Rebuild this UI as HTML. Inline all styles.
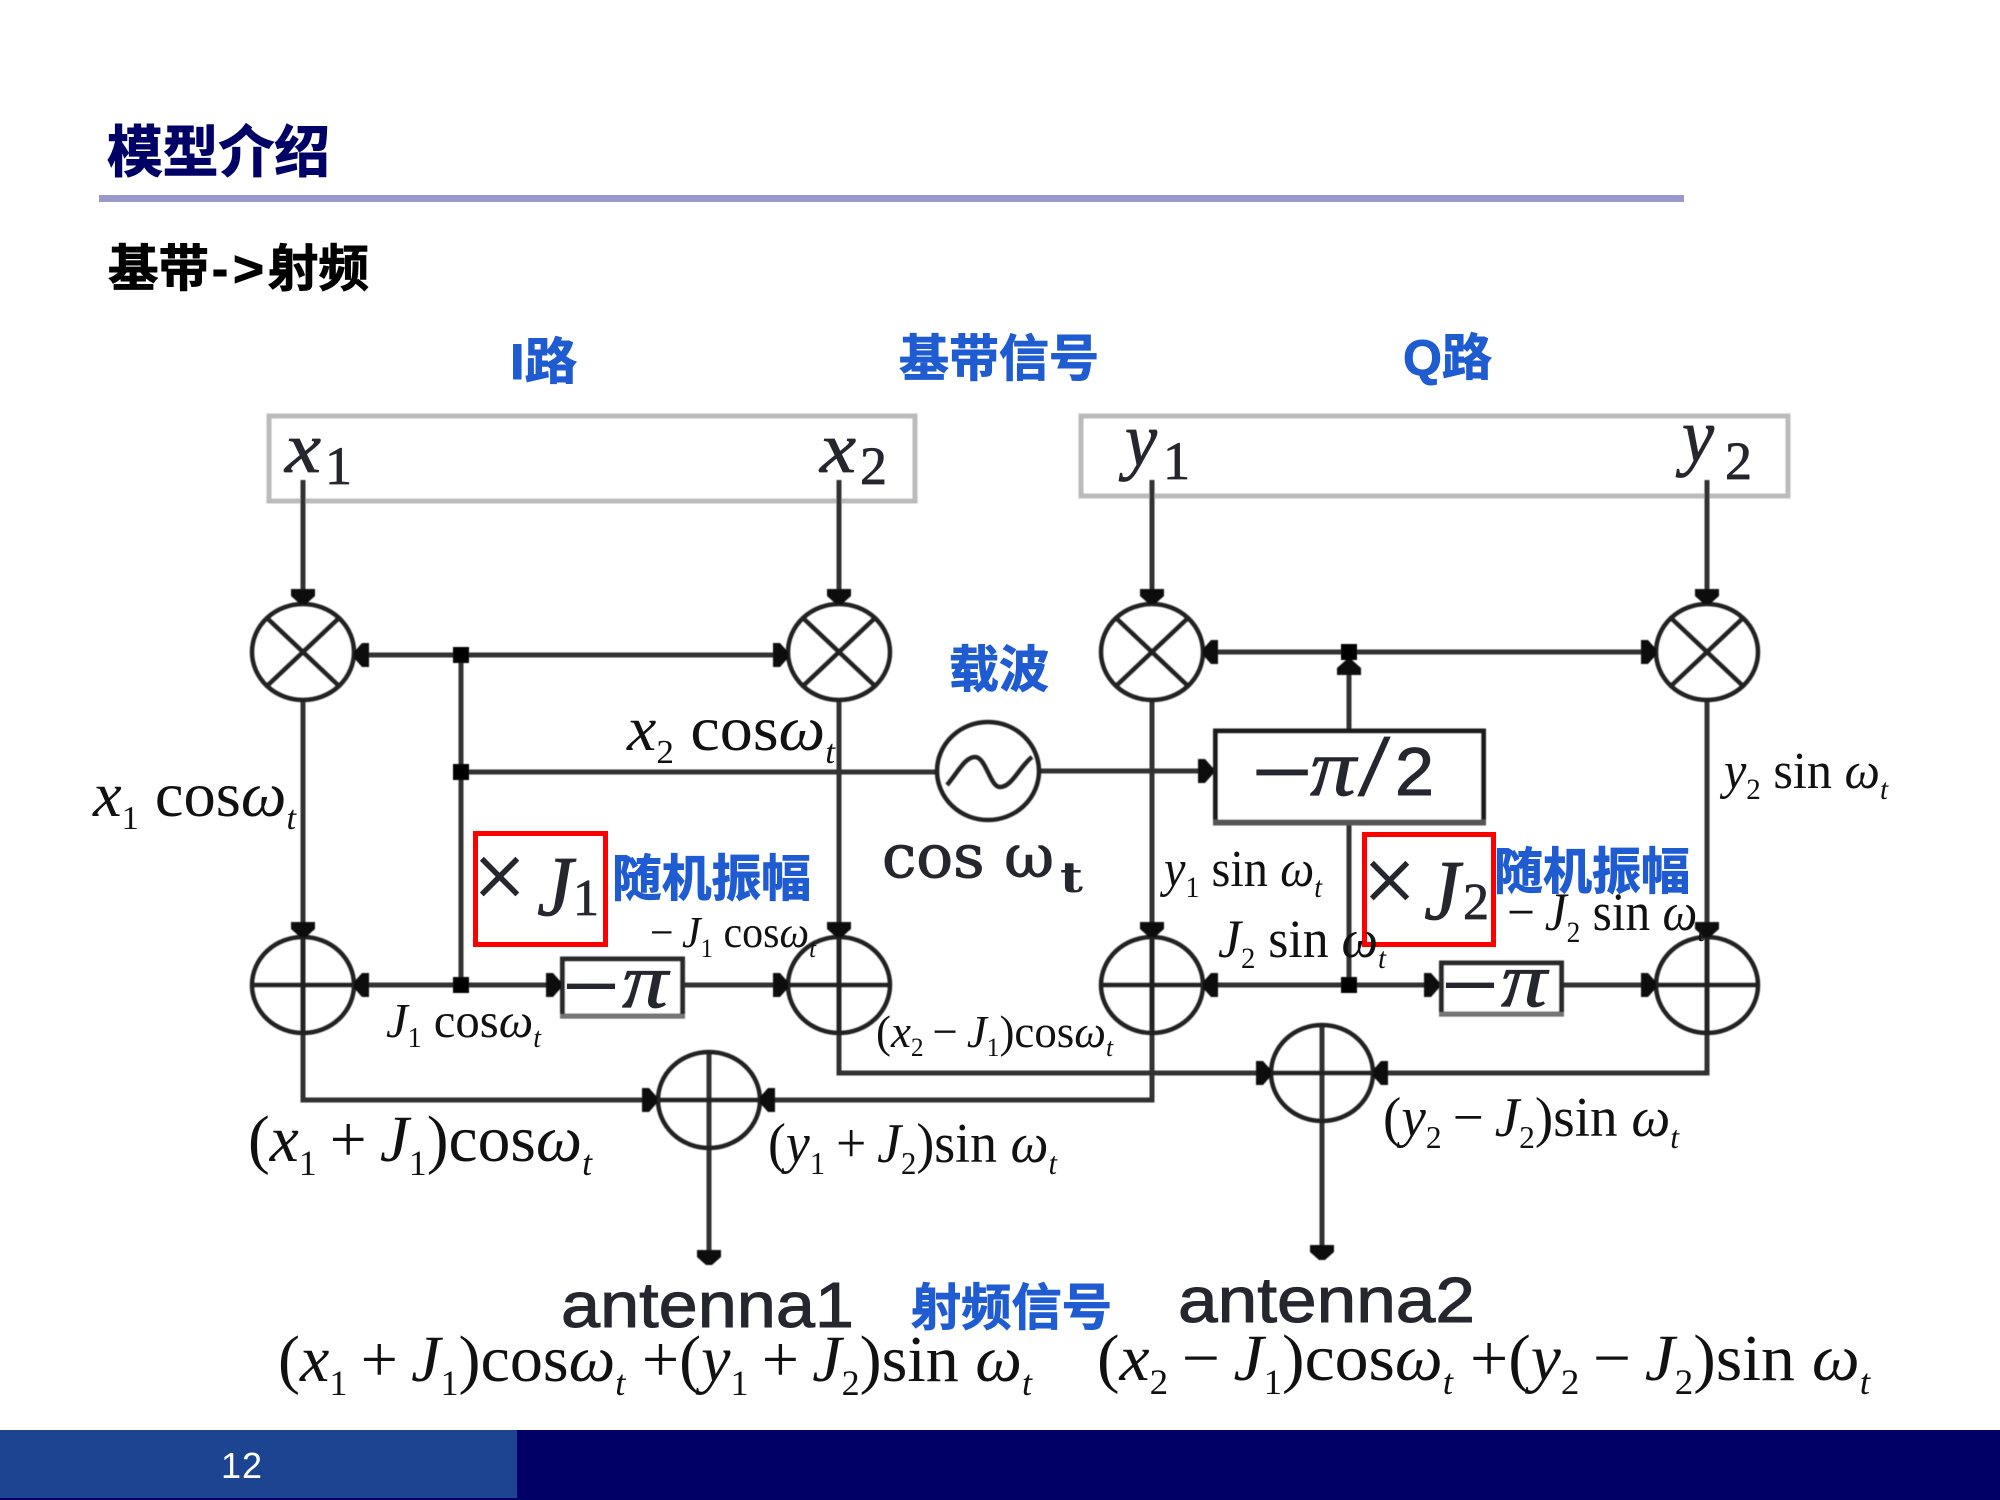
<!DOCTYPE html>
<html lang="zh"><head><meta charset="utf-8"><title>模型介绍</title>
<style>
html,body{margin:0;padding:0;background:#fff;width:2000px;height:1500px;overflow:hidden}
svg{display:block}
.cjk{font-family:"Liberation Sans","Noto Sans CJK SC",sans-serif;font-weight:700}
.blue{fill:#1f5bd1;font-size:50px;stroke:#1f5bd1;stroke-width:.9px}
.m{font-family:"Liberation Serif",serif;fill:#111}
.m .i,.i{font-style:italic}
.pic{font-family:"Liberation Serif",serif;fill:#26262e;stroke:#26262e;stroke-width:.8px}
.sans{font-family:"Liberation Sans",sans-serif;fill:#26262e;stroke:#26262e;stroke-width:1px}
</style></head><body>
<svg xmlns="http://www.w3.org/2000/svg" width="2000" height="1500" viewBox="0 0 2000 1500">
<defs>
<polygon id="ar" points="-15,-12 -8,-12 0,-3 0,3 -8,12 -15,12" fill="#111"/>
<filter id="soft" x="-2%" y="-2%" width="104%" height="104%"><feGaussianBlur stdDeviation="0.6"/></filter>
</defs>
<rect width="2000" height="1500" fill="#fff"/>

<!-- header -->
<text class="cjk" x="107" y="172" font-size="56" fill="#000066" stroke="#000066" stroke-width="1" textLength="223" lengthAdjust="spacingAndGlyphs">模型介绍</text>
<rect x="99" y="195" width="1585" height="7" fill="#9999cc"/>
<g class="cjk" font-size="50" fill="#000" stroke="#000" stroke-width="1">
<text x="108" y="286" textLength="101" lengthAdjust="spacingAndGlyphs">基带</text>
<text x="212" y="286" textLength="16" lengthAdjust="spacingAndGlyphs">-</text>
<text x="233" y="286" textLength="31" lengthAdjust="spacingAndGlyphs">&gt;</text>
<text x="268" y="286" textLength="101" lengthAdjust="spacingAndGlyphs">射频</text>
</g>

<text class="cjk blue" x="510" y="379" textLength="67" lengthAdjust="spacingAndGlyphs">I路</text>
<text class="cjk blue" x="899" y="376" textLength="200" lengthAdjust="spacingAndGlyphs">基带信号</text>
<text class="cjk blue" x="1403" y="375" textLength="89" lengthAdjust="spacingAndGlyphs">Q路</text>
<text class="cjk blue" x="949" y="687" textLength="100" lengthAdjust="spacingAndGlyphs">载波</text>
<text class="cjk blue" x="612" y="896" textLength="199" lengthAdjust="spacingAndGlyphs">随机振幅</text>
<text class="cjk blue" x="1494" y="889" textLength="196" lengthAdjust="spacingAndGlyphs">随机振幅</text>
<text class="cjk blue" x="911" y="1325" textLength="201" lengthAdjust="spacingAndGlyphs">射频信号</text>

<!-- diagram -->
<g filter="url(#soft)">
<rect x="269" y="416" width="646" height="85" fill="none" stroke="#bbb" stroke-width="5"/>
<rect x="1081" y="416" width="707" height="80" fill="none" stroke="#bbb" stroke-width="5"/>

<g fill="none" stroke="#333" stroke-width="5">
<path d="M303 480V604M839 480V604M1152 480V604M1707 480V604"/>
<path d="M303 700V1100H657M839 700V1073H1271M1152 700V1100H760M1707 700V1073H1373"/>
<path d="M354 655H788M461 655V985M461 772H937M1040 771H1213M1203 652H1656M1349 652V729M1349 824V985"/>
<path d="M354 985H561M684 985H788M1203 985H1439M1562 985H1656"/>
<path d="M709 1051V1262M1322 1025V1258"/>
</g>

<!-- multipliers -->
<g fill="none" stroke="#222" stroke-width="4.500">
<ellipse cx="303" cy="652" rx="51" ry="48"/><ellipse cx="839" cy="652" rx="51" ry="48"/>
<ellipse cx="1152" cy="652" rx="51" ry="48"/><ellipse cx="1707" cy="652" rx="51" ry="48"/>
<path d="M267 618L339 686M339 618L267 686M803 618L875 686M875 618L803 686M1116 618L1188 686M1188 618L1116 686M1671 618L1743 686M1743 618L1671 686"/>
<ellipse cx="303" cy="985" rx="51" ry="48"/><ellipse cx="839" cy="985" rx="51" ry="48"/>
<ellipse cx="1152" cy="985" rx="51" ry="48"/><ellipse cx="1707" cy="985" rx="51" ry="48"/>
<path d="M252 985H354M788 985H890M1101 985H1203M1656 985H1758"/>
<path d="M303 937V1033M839 937V1033M1152 937V1033M1707 937V1033"/>
<ellipse cx="709" cy="1100" rx="51" ry="48"/><ellipse cx="1322" cy="1073" rx="51" ry="48"/>
<path d="M657 1100H760M1271 1073H1373"/>
<ellipse cx="988" cy="771" rx="51" ry="49"/>
<path d="M947 785C958 772 965 757 975 757C986 757 990 787 1000 787C1012 787 1020 766 1032 757"/>
</g>

<!-- boxes -->
<rect x="1215.500" y="731" width="268" height="91" fill="#fff" stroke="#1a1a1a" stroke-width="5"/>
<path d="M1213 822.500H1486" stroke="#555" stroke-width="6"/>
<rect x="562.500" y="959" width="120" height="57" fill="#fff" stroke="#2a2a2a" stroke-width="5"/>
<path d="M560 1016H685" stroke="#777" stroke-width="4"/>
<rect x="1441.500" y="963" width="120" height="51" fill="#fff" stroke="#2a2a2a" stroke-width="5"/>
<path d="M1439 1014H1564" stroke="#777" stroke-width="4"/>

<!-- arrowheads -->
<use href="#ar" transform="translate(303,604) rotate(90)"/><use href="#ar" transform="translate(839,604) rotate(90)"/>
<use href="#ar" transform="translate(1152,604) rotate(90)"/><use href="#ar" transform="translate(1707,604) rotate(90)"/>
<use href="#ar" transform="translate(354,655) rotate(180)"/><use href="#ar" transform="translate(788,655)"/>
<use href="#ar" transform="translate(1203,652) rotate(180)"/><use href="#ar" transform="translate(1656,652)"/>
<use href="#ar" transform="translate(1349,660) rotate(-90)"/><use href="#ar" transform="translate(1213,771)"/>
<use href="#ar" transform="translate(354,985) rotate(180)"/><use href="#ar" transform="translate(561,985)"/><use href="#ar" transform="translate(788,985)"/>
<use href="#ar" transform="translate(1203,985) rotate(180)"/><use href="#ar" transform="translate(1439,985)"/><use href="#ar" transform="translate(1656,985)"/>
<use href="#ar" transform="translate(303,937) rotate(90)"/><use href="#ar" transform="translate(839,937) rotate(90)"/>
<use href="#ar" transform="translate(1152,937) rotate(90)"/><use href="#ar" transform="translate(1707,937) rotate(90)"/>
<use href="#ar" transform="translate(657,1100)"/><use href="#ar" transform="translate(760,1100) rotate(180)"/>
<use href="#ar" transform="translate(1271,1073)"/><use href="#ar" transform="translate(1373,1073) rotate(180)"/>
<use href="#ar" transform="translate(709,1265) rotate(90)"/><use href="#ar" transform="translate(1322,1260) rotate(90)"/>

<g fill="#000"><rect x="453" y="647" width="16" height="16"/><rect x="453" y="764" width="16" height="16"/><rect x="453" y="977" width="16" height="16"/><rect x="1341" y="644" width="16" height="16"/><rect x="1341" y="977" width="16" height="16"/></g>
</g>

<!-- picture labels -->
<text class="pic i" x="285" y="472" font-size="72" textLength="36" lengthAdjust="spacingAndGlyphs">x</text><text class="pic" x="325" y="484" font-size="54">1</text>
<text class="pic i" x="820" y="472" font-size="72" textLength="36" lengthAdjust="spacingAndGlyphs">x</text><text class="pic" x="860" y="484" font-size="54">2</text>
<text class="pic i" x="1125" y="465" font-size="76" textLength="32" lengthAdjust="spacingAndGlyphs">y</text><text class="pic" x="1163" y="479" font-size="54">1</text>
<text class="pic i" x="1682" y="461" font-size="76" textLength="32" lengthAdjust="spacingAndGlyphs">y</text><text class="pic" x="1725" y="479" font-size="54">2</text>
<text class="sans" x="1252" y="795" font-size="68" textLength="60" lengthAdjust="spacingAndGlyphs">−</text>
<text class="pic i" x="1310" y="795" font-size="82" textLength="46" lengthAdjust="spacingAndGlyphs">π</text>
<text class="pic" x="1358" y="795" font-size="88" textLength="32" lengthAdjust="spacingAndGlyphs">/</text>
<text class="sans" x="1395" y="795" font-size="68" textLength="39" lengthAdjust="spacingAndGlyphs">2</text>
<text class="sans" x="563" y="1007" font-size="62" textLength="56" lengthAdjust="spacingAndGlyphs">−</text>
<text class="pic i" x="622" y="1007" font-size="78" textLength="46" lengthAdjust="spacingAndGlyphs">π</text>
<text class="sans" x="1442" y="1006" font-size="62" textLength="56" lengthAdjust="spacingAndGlyphs">−</text>
<text class="pic i" x="1501" y="1006" font-size="78" textLength="46" lengthAdjust="spacingAndGlyphs">π</text>
<text x="882" y="877" font-family="DejaVu Serif,serif" font-size="60" fill="#26262e" stroke="#26262e" stroke-width="1" textLength="172" lengthAdjust="spacingAndGlyphs">cos ω</text>
<text x="1060" y="892" font-family="DejaVu Serif,serif" font-weight="700" font-size="42" fill="#26262e" textLength="23" lengthAdjust="spacingAndGlyphs">t</text>
<text class="sans" x="561" y="1327" font-size="64" textLength="293" lengthAdjust="spacingAndGlyphs">antenna1</text>
<text class="sans" x="1178" y="1322" font-size="64" textLength="297" lengthAdjust="spacingAndGlyphs">antenna2</text>

<!-- J boxes -->
<text class="pic" x="473" y="908" font-size="94" stroke-width="1.500">×</text>
<text class="pic i" x="537" y="915" font-size="86" textLength="36" lengthAdjust="spacingAndGlyphs">J</text>
<text class="pic" x="573" y="915" font-size="52">1</text>
<rect x="475.500" y="833.500" width="130" height="111" fill="none" stroke="#f00" stroke-width="5"/>
<text class="pic" x="1363" y="912" font-size="94" stroke-width="1.500">×</text>
<text class="pic i" x="1424" y="919" font-size="86" textLength="36" lengthAdjust="spacingAndGlyphs">J</text>
<text class="pic" x="1463" y="919" font-size="52">2</text>
<rect x="1364.500" y="834.500" width="129" height="110" fill="none" stroke="#f00" stroke-width="5"/>

<!-- equations -->
<g class="m">
<text x="93" y="816" font-size="64" textLength="203" lengthAdjust="spacingAndGlyphs"><tspan class="i">x</tspan><tspan dy="13" font-size="34">1</tspan><tspan dy="-13"> cos</tspan><tspan class="i">ω</tspan><tspan dy="13" font-size="34" class="i">t</tspan></text>
<text x="627" y="750" font-size="64" textLength="208" lengthAdjust="spacingAndGlyphs"><tspan class="i">x</tspan><tspan dy="13" font-size="34">2</tspan><tspan dy="-13"> cos</tspan><tspan class="i">ω</tspan><tspan dy="13" font-size="34" class="i">t</tspan></text>
<text x="1724" y="788" font-size="52" textLength="164" lengthAdjust="spacingAndGlyphs"><tspan class="i">y</tspan><tspan dy="11" font-size="30">2</tspan><tspan dy="-11"> sin </tspan><tspan class="i">ω</tspan><tspan dy="11" font-size="30" class="i">t</tspan></text>
<text x="1164" y="886" font-size="52" textLength="158" lengthAdjust="spacingAndGlyphs"><tspan class="i">y</tspan><tspan dy="11" font-size="30">1</tspan><tspan dy="-11"> sin </tspan><tspan class="i">ω</tspan><tspan dy="11" font-size="30" class="i">t</tspan></text>
<text x="1507" y="930" font-size="54" textLength="198" lengthAdjust="spacingAndGlyphs">−&#8201;<tspan class="i">J</tspan><tspan dy="12" font-size="30">2</tspan><tspan dy="-12"> sin </tspan><tspan class="i">ω</tspan><tspan dy="11" font-size="30" class="i">t</tspan></text>
<text x="1218" y="957" font-size="54" textLength="168" lengthAdjust="spacingAndGlyphs"><tspan class="i">J</tspan><tspan dy="11" font-size="30">2</tspan><tspan dy="-11"> sin </tspan><tspan class="i">ω</tspan><tspan dy="11" font-size="30" class="i">t</tspan></text>
<text x="650" y="947" font-size="44" textLength="166" lengthAdjust="spacingAndGlyphs">−&#8201;<tspan class="i">J</tspan><tspan dy="10" font-size="26">1</tspan><tspan dy="-10"> cos</tspan><tspan class="i">ω</tspan><tspan dy="10" font-size="26" class="i">t</tspan></text>
<text x="386" y="1037" font-size="49" textLength="155" lengthAdjust="spacingAndGlyphs"><tspan class="i">J</tspan><tspan dy="10" font-size="28">1</tspan><tspan dy="-10"> cos</tspan><tspan class="i">ω</tspan><tspan dy="10" font-size="28" class="i">t</tspan></text>
<text x="876" y="1047" font-size="46" textLength="237" lengthAdjust="spacingAndGlyphs">(<tspan class="i">x</tspan><tspan dy="9" font-size="26">2</tspan><tspan dy="-9">&#8201;−&#8201;</tspan><tspan class="i">J</tspan><tspan dy="9" font-size="26">1</tspan><tspan dy="-9">)cos</tspan><tspan class="i">ω</tspan><tspan dy="9" font-size="26" class="i">t</tspan></text>
<text x="248" y="1161" font-size="66" textLength="344" lengthAdjust="spacingAndGlyphs">(<tspan class="i">x</tspan><tspan dy="14" font-size="36">1</tspan><tspan dy="-14">&#8201;+&#8201;</tspan><tspan class="i">J</tspan><tspan dy="14" font-size="36">1</tspan><tspan dy="-14">)cos</tspan><tspan class="i">ω</tspan><tspan dy="14" font-size="36" class="i">t</tspan></text>
<text x="768" y="1162" font-size="56" textLength="289" lengthAdjust="spacingAndGlyphs">(<tspan class="i">y</tspan><tspan dy="12" font-size="32">1</tspan><tspan dy="-12">&#8201;+&#8201;</tspan><tspan class="i">J</tspan><tspan dy="12" font-size="32">2</tspan><tspan dy="-12">)sin </tspan><tspan class="i">ω</tspan><tspan dy="12" font-size="32" class="i">t</tspan></text>
<text x="1383" y="1136" font-size="56" textLength="296" lengthAdjust="spacingAndGlyphs">(<tspan class="i">y</tspan><tspan dy="12" font-size="32">2</tspan><tspan dy="-12">&#8201;−&#8201;</tspan><tspan class="i">J</tspan><tspan dy="12" font-size="32">2</tspan><tspan dy="-12">)sin </tspan><tspan class="i">ω</tspan><tspan dy="12" font-size="32" class="i">t</tspan></text>
<text x="278" y="1381" font-size="66" textLength="754" lengthAdjust="spacingAndGlyphs">(<tspan class="i">x</tspan><tspan dy="14" font-size="36">1</tspan><tspan dy="-14">&#8201;+&#8201;</tspan><tspan class="i">J</tspan><tspan dy="14" font-size="36">1</tspan><tspan dy="-14">)cos</tspan><tspan class="i">ω</tspan><tspan dy="14" font-size="36" class="i">t</tspan><tspan dy="-14"> +(</tspan><tspan class="i">y</tspan><tspan dy="14" font-size="36">1</tspan><tspan dy="-14">&#8201;+&#8201;</tspan><tspan class="i">J</tspan><tspan dy="14" font-size="36">2</tspan><tspan dy="-14">)sin </tspan><tspan class="i">ω</tspan><tspan dy="14" font-size="36" class="i">t</tspan></text>
<text x="1097" y="1380" font-size="66" textLength="773" lengthAdjust="spacingAndGlyphs">(<tspan class="i">x</tspan><tspan dy="14" font-size="36">2</tspan><tspan dy="-14">&#8201;−&#8201;</tspan><tspan class="i">J</tspan><tspan dy="14" font-size="36">1</tspan><tspan dy="-14">)cos</tspan><tspan class="i">ω</tspan><tspan dy="14" font-size="36" class="i">t</tspan><tspan dy="-14"> +(</tspan><tspan class="i">y</tspan><tspan dy="14" font-size="36">2</tspan><tspan dy="-14">&#8201;−&#8201;</tspan><tspan class="i">J</tspan><tspan dy="14" font-size="36">2</tspan><tspan dy="-14">)sin </tspan><tspan class="i">ω</tspan><tspan dy="14" font-size="36" class="i">t</tspan></text>
</g>

<!-- footer -->
<rect x="0" y="1430" width="2000" height="70" fill="#000066"/>
<rect x="0" y="1430" width="517" height="68" fill="#1c4491"/>
<text x="221" y="1478" font-family="Liberation Sans,sans-serif" font-size="36" fill="#fff" textLength="41" lengthAdjust="spacing">12</text>
</svg>
</body></html>
